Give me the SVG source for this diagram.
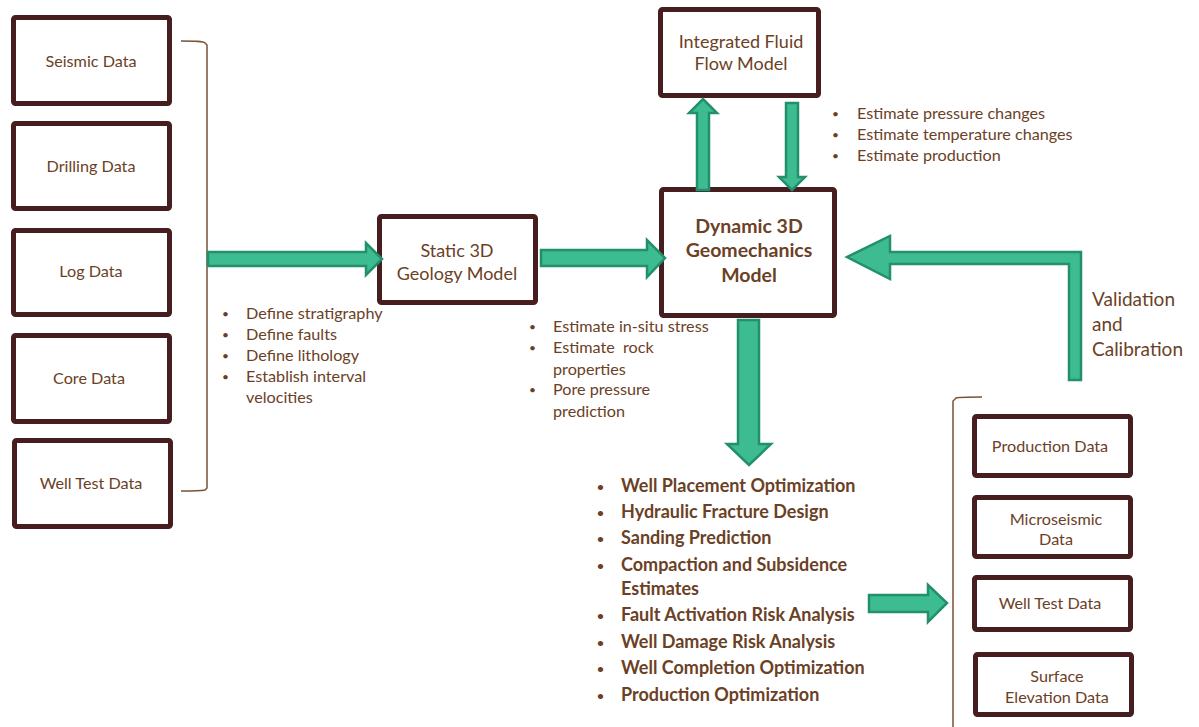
<svg xmlns="http://www.w3.org/2000/svg" width="1199" height="727" viewBox="0 0 1199 727">
<style>
.box{fill:#fff;stroke:#461e1f;stroke-width:5}
.t{font-family:Lato,"Liberation Sans",sans-serif;fill:#6b4126;font-size:16.2px}
.tc{text-anchor:middle}
.b{font-weight:bold}
.m{font-size:18px}
.bu{font-size:12px}
.arr{fill:#3dbb91;stroke:#22906c;stroke-width:2.5;stroke-linejoin:miter}
.br{fill:none;stroke:#7a5234;stroke-width:1.5}
</style>
<rect width="1199" height="727" fill="#fff"/>
<g id="seismic"><rect class="box" x="13.5" y="17.5" width="156" height="86" rx="2"/><text class="t tc" x="91" y="67">Seismic Data</text></g>
<g id="drilling"><rect class="box" x="13.5" y="123.5" width="156" height="85" rx="2"/><text class="t tc" x="91" y="172">Drilling Data</text></g>
<g id="log"><rect class="box" x="13.5" y="230.5" width="156" height="84" rx="2"/><text class="t tc" x="91" y="277">Log Data</text></g>
<g id="core"><rect class="box" x="13.5" y="335.5" width="156" height="86" rx="2"/><text class="t tc" x="89" y="384">Core Data</text></g>
<g id="welltest1"><rect class="box" x="14.5" y="440.5" width="156" height="86" rx="2"/><text class="t tc" x="91" y="489">Well Test Data</text></g>
<g id="static"><rect class="box" x="379.5" y="216.5" width="156" height="86" rx="2"/><text class="t tc m" x="457" y="257">Static 3D</text><text class="t tc m" x="457" y="280">Geology Model</text></g>
<g id="dynamic"><rect class="box" x="661.5" y="189.5" width="173" height="126" rx="2"/><text class="t tc b" x="749" y="233" style="font-size:19.5px">Dynamic 3D</text><text class="t tc b" x="749" y="257" style="font-size:19.5px">Geomechanics</text><text class="t tc b" x="749" y="282" style="font-size:19.5px">Model</text></g>
<g id="fluid"><rect class="box" x="660.5" y="9.5" width="158" height="86" rx="2"/><text class="t tc m" x="741" y="48">Integrated Fluid</text><text class="t tc m" x="741" y="70">Flow Model</text></g>
<g id="production"><rect class="box" x="974.5" y="416.5" width="156" height="59" rx="2"/><text class="t tc" x="1050" y="452">Production Data</text></g>
<g id="microseismic"><rect class="box" x="974.5" y="497.5" width="156" height="59" rx="2"/><text class="t tc" x="1056" y="525">Microseismic</text><text class="t tc" x="1056" y="545">Data</text></g>
<g id="welltest2"><rect class="box" x="974.5" y="577.5" width="156" height="52" rx="2"/><text class="t tc" x="1050" y="609">Well Test Data</text></g>
<g id="surface"><rect class="box" x="975.5" y="654.5" width="156" height="60" rx="2"/><text class="t tc" x="1057" y="682">Surface</text><text class="t tc" x="1057" y="703">Elevation Data</text></g>
<g id="connectors">
<path class="br" d="M181,41 C195,41 203,41 205,43 L207,45 L207,488 L205,490 C200,491 190,491 181,491"/>
<path class="br" d="M982,397 C970,397 958,397 956,398 L953,401 L953,727"/>
<polygon class="arr" points="208,252 366,252 366,243 382,259 366,275 366,266 208,266"/>
<polygon class="arr" points="541,250 647,250 647,240 665,258 647,277 647,266 541,266"/>
<polygon class="arr" points="697,190 697,113 689,113 703,99 717,113 709,113 709,190"/>
<polygon class="arr" points="786,103 798,103 798,177 805,177 792,190 779,177 786,177"/>
<polygon class="arr" points="1069,380 1081,380 1081,252 890,252 890,236 847,257 890,279 890,264 1069,264"/>
<polygon class="arr" points="738,320 759,320 759,444 771,444 749,465 727,444 738,444"/>
<polygon class="arr" points="869,595 928,595 928,585 947,603 928,622 928,612 869,612"/>
</g>
<g id="labels" class="t">
<text class="bu" x="222" y="318">•</text><text x="246" y="319">Define stratigraphy</text>
<text class="bu" x="222" y="339">•</text><text x="246" y="340">Define faults</text>
<text class="bu" x="222" y="360">•</text><text x="246" y="361">Define lithology</text>
<text class="bu" x="222" y="381">•</text><text x="246" y="382">Establish interval</text>
<text x="246" y="403">velocities</text>
<text class="bu" x="529" y="331">•</text><text x="553" y="332">Estimate in-situ stress</text>
<text class="bu" x="529" y="352">•</text><text x="553" y="353" xml:space="preserve">Estimate  rock</text>
<text x="553" y="375">properties</text>
<text class="bu" x="529" y="394">•</text><text x="553" y="395">Pore pressure</text>
<text x="553" y="417">prediction</text>
<text class="bu" x="832" y="118">•</text><text x="857" y="119">Estimate pressure changes</text>
<text class="bu" x="832" y="139">•</text><text x="857" y="140">Estimate temperature changes</text>
<text class="bu" x="832" y="160">•</text><text x="857" y="161">Estimate production</text>
<text x="1092" y="306" style="font-size:19px">Validation</text>
<text x="1092" y="331" style="font-size:19px">and</text>
<text x="1092" y="356" style="font-size:19px">Calibration</text>
</g>
<g id="applications" class="t b" style="font-size:18px">
<text class="bu" x="597" y="491">•</text><text x="621" y="492">Well Placement Optimization</text>
<text class="bu" x="597" y="517">•</text><text x="621" y="518">Hydraulic Fracture Design</text>
<text class="bu" x="597" y="543">•</text><text x="621" y="544">Sanding Prediction</text>
<text class="bu" x="597" y="570">•</text><text x="621" y="571">Compaction and Subsidence</text>
<text x="621" y="595">Estimates</text>
<text class="bu" x="597" y="620">•</text><text x="621" y="621">Fault Activation Risk Analysis</text>
<text class="bu" x="597" y="647">•</text><text x="621" y="648">Well Damage Risk Analysis</text>
<text class="bu" x="597" y="673">•</text><text x="621" y="674">Well Completion Optimization</text>
<text class="bu" x="597" y="700">•</text><text x="621" y="701">Production Optimization</text>
</g>
</svg>
